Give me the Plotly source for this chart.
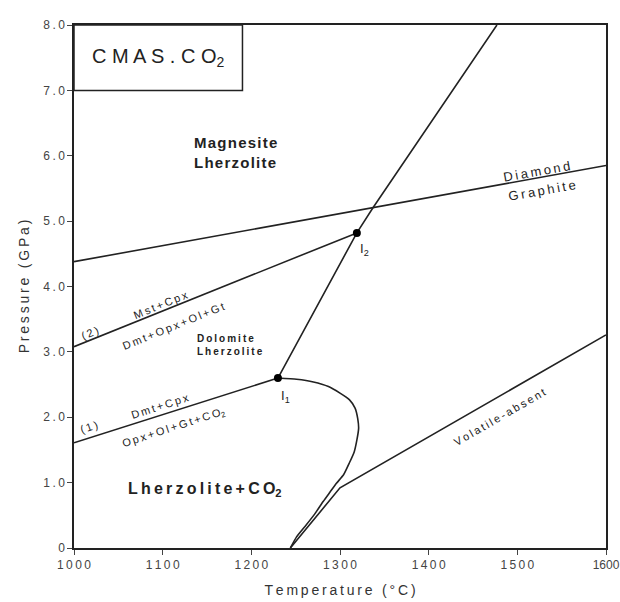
import plotly.graph_objects as go

# ---- data ----
diamond_T = [1000, 1600]
diamond_P = [4.38, 5.85]

reac2_T = [1000, 1319]
reac2_P = [3.08, 4.82]

reac1_T = [1000, 1230]
reac1_P = [1.61, 2.60]

steep_T = [1230, 1319, 1337, 1477]
steep_P = [2.60, 4.82, 5.20, 8.00]

solidus_T = [1230, 1251, 1270, 1287, 1300, 1310.5, 1317, 1320, 1321, 1319, 1316, 1310.5,
             1304, 1296, 1289, 1281, 1272, 1260.5, 1251, 1244]
solidus_P = [2.60, 2.58, 2.54, 2.47, 2.37, 2.27, 2.14, 1.98, 1.83, 1.65, 1.47, 1.30,
             1.12, 0.99, 0.86, 0.71, 0.53, 0.33, 0.17, 0.0]

volabs_T = [1244, 1300, 1600]
volabs_P = [0.0, 0.92, 3.26]

inv_T = [1230, 1319]
inv_P = [2.60, 4.82]

x_ticks = [1000, 1100, 1200, 1300, 1400, 1500, 1600]
y_ticks = [0, 1, 2, 3, 4, 5, 6, 7, 8]
y_ticktext = ["0", "1.0", "2.0", "3.0", "4.0", "5.0", "6.0", "7.0", "8.0"]

TS = "\u2009"  # thin space, used for the wide letter spacing of the original


def sp(s, gap=TS):
    return gap.join(list(s))


# labels: (text, T, P, angle, size, bold)
labels = [
    (sp("Mst+Cpx"), 1097, 3.72, -22, 11, False),
    (sp("Dmt+Opx+Ol+Gt"), 1112, 3.40, -22, 11, False),
    (sp("(2)"), 1018, 3.29, -22, 11, False),
    (sp("Dmt+Cpx"), 1097, 2.17, -18, 11, False),
    (sp("Opx+Ol+Gt+CO") + "<sub>2</sub>", 1112, 1.84, -18, 11, False),
    (sp("(1)"), 1017, 1.85, -18, 11, False),
    (sp("Diamond"), 1522, 5.76, -10, 13, False),
    (sp("Graphite"), 1528, 5.47, -10, 13, False),
    (sp("Volatile-absent"), 1480, 2.00, -30, 11, False),
    ("I<sub>1</sub>", 1238, 2.31, 0, 13, False),
    ("I<sub>2</sub>", 1328, 4.56, 0, 13, False),
    (sp("Dolomite") + "<br>" + sp("Lherzolite"), 1176, 3.10, 0, 10, True),
    (sp("Lherzolite+CO") + "<sub>2</sub>", 1148, 0.89, 0, 16, True),
]

line_color = "#222222"
font_family = "Liberation Sans, Arial, sans-serif"

fig = go.Figure()
for T, P in [(diamond_T, diamond_P), (reac2_T, reac2_P), (reac1_T, reac1_P),
             (steep_T, steep_P), (volabs_T, volabs_P)]:
    fig.add_trace(go.Scatter(x=T, y=P, mode="lines",
                             line=dict(color=line_color, width=1.6),
                             showlegend=False, hoverinfo="skip"))
fig.add_trace(go.Scatter(x=solidus_T, y=solidus_P, mode="lines",
                         line=dict(color=line_color, width=1.6, shape="spline", smoothing=0.5),
                         showlegend=False, hoverinfo="skip"))

fig.add_trace(go.Scatter(x=inv_T, y=inv_P, mode="markers",
                         marker=dict(color="black", size=8), showlegend=False))

annotations = []
for text, T, P, ang, size, bold in labels:
    t = f"<b>{text}</b>" if bold else text
    annotations.append(dict(x=T, y=P, xref="x", yref="y", text=t, showarrow=False,
                            textangle=ang, font=dict(size=size, color="#222", family=font_family),
                            align="left"))
annotations.append(dict(x=1133, y=6.05, xref="x", yref="y", xanchor="left",
                        text="<b>" + sp("Magnesite", "\u200a") + "<br>" + sp("Lherzolite", "\u200a") + "</b>",
                        showarrow=False, align="left",
                        font=dict(size=15, color="#222", family=font_family)))
annotations.append(dict(x=1095, y=7.5, xref="x", yref="y",
                        text="C M A S . C O<sub>2</sub>", showarrow=False,
                        font=dict(size=20, color="#222", family=font_family)))

fig.add_shape(type="rect", x0=1000, x1=1190, y0=7.0, y1=8.0, xref="x", yref="y",
              line=dict(color=line_color, width=1.5))

fig.update_layout(
    width=620, height=602,
    margin=dict(l=74, r=14, t=25, b=54),
    paper_bgcolor="white", plot_bgcolor="white",
    annotations=annotations,
    font=dict(family=font_family, color="#333"),
)
x_ticktext = [sp(str(v)) for v in x_ticks[:-1]] + [str(x_ticks[-1])]
fig.update_xaxes(range=[1000, 1600], tickvals=x_ticks, ticktext=x_ticktext,
                 ticks="outside", ticklen=5, ticklabeloverflow="allow", automargin=False,
                 showline=True, linecolor=line_color, linewidth=1.5, mirror=True,
                 showgrid=False, zeroline=False, tickfont=dict(size=12, color="#444"),
                 title=dict(text=sp("Temperature (°C)"), font=dict(size=14, color="#333"), standoff=14))
fig.update_yaxes(range=[0, 8], tickvals=y_ticks, ticktext=[sp(t) for t in y_ticktext],
                 ticks="outside", ticklen=5, ticklabeloverflow="allow", automargin=False,
                 showline=True, linecolor=line_color, linewidth=1.5, mirror=True,
                 showgrid=False, zeroline=False, tickfont=dict(size=12, color="#444"),
                 title=dict(text=sp("Pressure (GPa)"), font=dict(size=14, color="#333"), standoff=10))

fig.write_html("out.html")
